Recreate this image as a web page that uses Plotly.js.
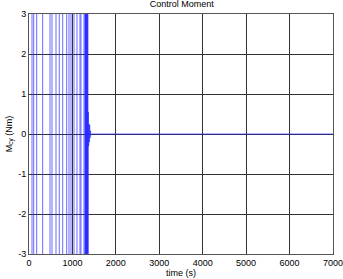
<!DOCTYPE html>
<html><head><meta charset="utf-8">
<script src="https://cdn.plot.ly/plotly-3.0.1.min.js"></script>
<style>html,body{margin:0;padding:0;background:#fff;}#c{width:343px;height:279px;}</style>
</head><body><div id="c"></div>
<script>
// Switching times (s) of the saturated bang-bang phase
const switchTimes = [0, 69, 108, 177, 315, 484, 530, 622, 698, 776, 868, 921, 967, 1036, 1105, 1174, 1197, 1266,
  1290, 1296, 1302, 1308, 1314, 1320, 1326, 1332, 1338, 1344, 1350, 1356];
const switchValues = [5, -5, 5, -5, 5, -5, 5, -5, 5, -5, 5, -5, 5, -5, 5, -5, 5, -5,
  5, -5, 5, -5, 5, -5, 5, -5, 5, -5, 5, -5];
// Settling phase around zero
const settleTimes = [1362, 1368, 1376, 1384, 1392, 1400, 1410, 1420, 1430, 7000];
const settleValues = [0.55, -0.3, 0.25, -0.2, 0.22, -0.1, 0.08, -0.03, 0, 0];

const t = switchTimes.concat(settleTimes);
const m = switchValues.concat(settleValues);

const xTicks = [0, 1000, 2000, 3000, 4000, 5000, 6000, 7000];
const yTicks = [-3, -2, -1, 0, 1, 2, 3];

const font = {family: 'Liberation Sans, Arial, sans-serif', size: 9, color: '#000'};

Plotly.newPlot('c', [{
  x: t, y: m, type: 'scatter', mode: 'lines',
  line: {color: '#2a2aff', width: 0.7, shape: 'hv'},
  hoverinfo: 'skip'
}], {
  width: 343, height: 279,
  margin: {l: 29, r: 10, t: 14, b: 25},
  paper_bgcolor: '#fff', plot_bgcolor: '#fff',
  showlegend: false,
  font: font,
  title: {text: 'Control Moment', font: font, x: 0.53, xanchor: 'center', y: 0.985, yanchor: 'middle'},
  xaxis: {
    range: [0, 7001], tickvals: xTicks, ticktext: xTicks.map(String),
    showgrid: true, gridcolor: '#333', gridwidth: 1,
    zeroline: false, showline: true, linecolor: '#555', linewidth: 1, mirror: true,
    ticks: 'inside', ticklen: 3, tickcolor: '#333',
    tickfont: font, automargin: false,
    title: {text: 'time (s)', font: font, standoff: 2}
  },
  yaxis: {
    range: [-3, 3], tickvals: yTicks, ticktext: yTicks.map(String),
    showgrid: true, gridcolor: '#333', gridwidth: 1,
    zeroline: false, showline: true, linecolor: '#555', linewidth: 1, mirror: true,
    ticks: 'inside', ticklen: 3, tickcolor: '#333',
    tickfont: font, automargin: false,
    title: {text: 'M<sub>cy</sub> (Nm)', font: font, standoff: 4}
  }
}, {displayModeBar: false, staticPlot: true});
</script></body></html>
